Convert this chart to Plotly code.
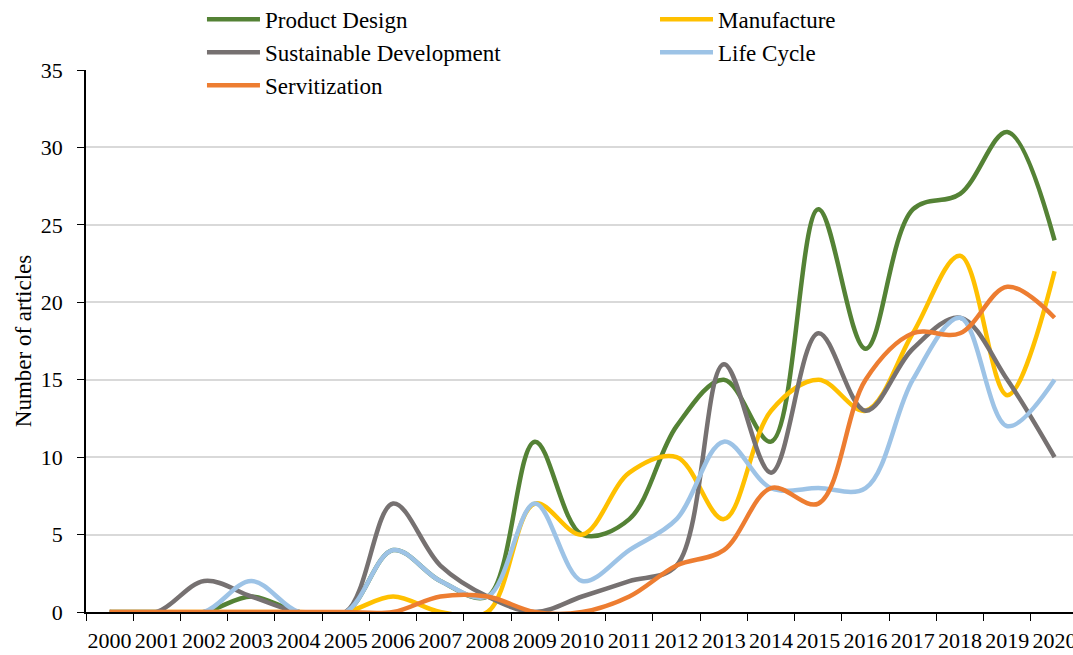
import plotly.graph_objects as go

years = [str(y) for y in range(2000, 2021)]

product_design = [0, 0, 0, 1, 0, 0, 4, 2, 1, 11, 5, 6, 12, 15, 11, 26, 17, 26, 27, 31, 24]
manufacture = [0, 0, 0, 0, 0, 0, 1, 0, 0, 7, 5, 9, 10, 6, 13, 15, 13, 18, 23, 14, 22]
sustainable = [0, 0, 2, 1, 0, 0, 7, 3, 1, 0, 1, 2, 3, 16, 9, 18, 13, 17, 19, 15, 10]
life_cycle = [0, 0, 0, 2, 0, 0, 4, 2, 1, 7, 2, 4, 6, 11, 8, 8, 8, 15, 19, 12, 15]
servitization = [0, 0, 0, 0, 0, 0, 0, 1, 1, 0, 0, 1, 3, 4, 8, 7, 15, 18, 18, 21, 19]

# name, values, colour, which legend column
series = [
    ("Product Design", product_design, "#548235", "legend"),
    ("Manufacture", manufacture, "#FFC000", "legend2"),
    ("Sustainable Development", sustainable, "#767171", "legend"),
    ("Life Cycle", life_cycle, "#9DC3E6", "legend2"),
    ("Servitization", servitization, "#ED7D31", "legend"),
]

FONT = "Liberation Serif"

fig = go.Figure()
for name, vals, col, leg in series:
    fig.add_trace(go.Scatter(
        x=years, y=vals, name=name, mode="lines", legend=leg,
        line=dict(color=col, width=4.5, shape="spline", smoothing=1),
    ))

leg_style = dict(
    orientation="v", xanchor="left", y=1.133, yanchor="top",
    font=dict(family=FONT, size=23), itemwidth=53,
    bgcolor="rgba(0,0,0,0)", tracegroupgap=0,
)

fig.update_layout(
    width=1073, height=655,
    margin=dict(l=86, r=0, t=70, b=43, autoexpand=False),
    plot_bgcolor="white", paper_bgcolor="white",
    font=dict(family=FONT, size=22, color="black"),
    showlegend=True,
    legend=dict(x=0.1175, **leg_style),
    legend2=dict(x=0.5765, **leg_style),
)

fig.update_xaxes(
    type="category", range=[-0.5, 20.39],
    tickson="boundaries", ticks="outside", ticklen=7, tickcolor="black",
    showline=True, linecolor="black", linewidth=1.5, tickangle=0,
    showgrid=False, tickfont=dict(size=22), ticklabelstandoff=8,
    automargin=False,
)
fig.update_yaxes(
    range=[0, 35], dtick=5, tick0=0,
    ticks="outside", ticklen=7, tickcolor="black",
    showline=True, linecolor="black", linewidth=1.5,
    showgrid=True, gridcolor="#d9d9d9", gridwidth=2,
    zeroline=False, tickfont=dict(size=22), ticklabelstandoff=10,
    title=dict(text="Number of articles", font=dict(size=23), standoff=3),
    automargin=False,
)

# drop the page's default body margin so the chart sits at the window corner
fig.write_html(
    "out.html",
    config={"displayModeBar": False},
    post_script="document.body.style.margin='0';",
)
